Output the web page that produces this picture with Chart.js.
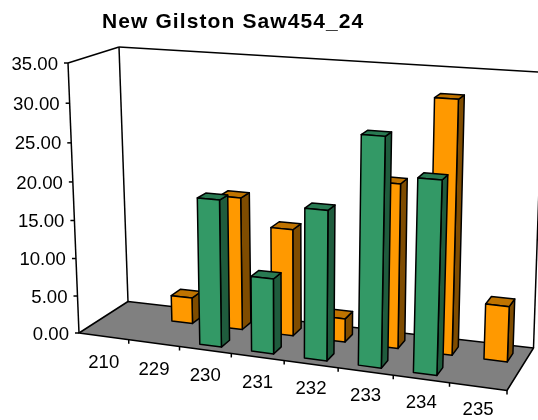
<!DOCTYPE html>
<html><head><meta charset="utf-8">
<style>html,body{margin:0;padding:0;background:#fff}canvas{display:block}</style>
<script src="https://cdn.jsdelivr.net/npm/chart.js@4/dist/chart.umd.js"></script>
</head><body><canvas id="c" width="538" height="420"></canvas>
<script>
const titleText = 'New Gilston Saw454_24';
const categories = ['210','229','230','231','232','233','234','235'];
const greenValues = [null,null,19,9.7,19,28.5,23.9,null];
const orangeValues = [null,3.5,17.6,14.1,3.1,21.2,32.1,7.1];

// perspective box: corners of the floor and of the top plane
function quad(p00,p10,p11,p01){
  return (u,v)=>[0,1].map(i=>(1-v)*((1-u)*p00[i]+u*p10[i])+v*((1-u)*p01[i]+u*p11[i]));
}
const floorQ = quad([79,333],[507,390.5],[533.5,348],[128,301.5]);
const topQ = quad([68,63],[519,92],[543,72.2],[119,47]);
function project(u0,v,w){
  const u=u0/(u0+1.086*(1-u0));
  const a=floorQ(u,v),b=topQ(u,v),t=w/(w+1.05*(1-w));
  return [a[0]+(b[0]-a[0])*t,a[1]+(b[1]-a[1])*t];
}
function poly(ctx,pts,fill){
  ctx.beginPath();pts.forEach((p,i)=>i?ctx.lineTo(p[0],p[1]):ctx.moveTo(p[0],p[1]));ctx.closePath();
  if(fill){ctx.fillStyle=fill;ctx.fill();}
  ctx.stroke();
}
function line(ctx,a,b){ctx.beginPath();ctx.moveTo(a[0],a[1]);ctx.lineTo(b[0],b[1]);ctx.stroke();}

class Bar3DElement extends Chart.BarElement{
  draw(ctx){
    if(!this.box3d) return;
    const xs=this.box3d.x,ys=this.box3d.y;
    const half=this.width/2;
    const u0=(this.x-half-xs.left)/xs.width,u1=(this.x+half-xs.left)/xs.width;
    const w0=(ys.bottom-this.base)/ys.height,w1=(ys.bottom-this.y)/ys.height;
    const v0=this.box3d.v0,v1=this.box3d.v1;
    ctx.save();
    ctx.strokeStyle='#000';ctx.lineWidth=1.5;ctx.lineJoin='round';
    poly(ctx,[project(u1,v0,w0),project(u1,v1,w0),project(u1,v1,w1),project(u1,v0,w1)],this.box3d.side);
    poly(ctx,[project(u0,v0,w1),project(u1,v0,w1),project(u1,v1,w1),project(u0,v1,w1)],this.box3d.top);
    poly(ctx,[project(u0,v0,w0),project(u1,v0,w0),project(u1,v0,w1),project(u0,v0,w1)],this.options.backgroundColor);
    ctx.restore();
  }
}
Bar3DElement.id='bar3d';
class Bar3DController extends Chart.BarController{
  updateElements(rects,start,count,mode){
    super.updateElements(rects,start,count,mode);
    const ds=this.getDataset();
    for(let i=start;i<start+count;i++){
      rects[i].box3d={x:this.chart.scales.x,y:this.chart.scales.y,v0:ds.depthStart,v1:ds.depthEnd,side:ds.sideColor,top:ds.topColor};
    }
  }
}
Bar3DController.id='bar3d';
Bar3DController.defaults=Object.assign({},Chart.BarController.defaults,{dataElementType:'bar3d'});
Bar3DController.overrides=Chart.BarController.overrides;
Chart.register(Bar3DElement,Bar3DController);

const box3d={
  id:'box3d',
  beforeDatasetsDraw(chart){
    const ctx=chart.ctx,ys=chart.scales.y,xs=chart.scales.x;
    ctx.save();
    ctx.strokeStyle='#000';ctx.lineWidth=1.5;ctx.lineJoin='round';
    poly(ctx,[project(0,0,0),project(1,0,0),project(1,1,0),project(0,1,0)],'#808080');
    line(ctx,project(0,0,0),project(0,0,1));
    line(ctx,project(0,1,0),project(0,1,1));
    line(ctx,project(0,0,1),project(0,1,1));
    line(ctx,project(0,1,1),project(1,1,1));
    line(ctx,project(1,1,0),project(1,1,1));
    ys.ticks.forEach(t=>{
      const w=(ys.bottom-ys.getPixelForValue(t.value))/ys.height,p=project(0,0,w);
      line(ctx,p,[p[0]-4,p[1]]);
    });
    for(let i=1;i<=categories.length;i++){
      const p=project(i/categories.length,0,0);
      line(ctx,p,[p[0],p[1]+4]);
    }
    ctx.restore();
  },
  afterDraw(chart){
    const ctx=chart.ctx,ys=chart.scales.y,xs=chart.scales.x;
    ctx.save();
    ctx.fillStyle='#000';
    ctx.font='18.6px "Liberation Sans", Arial, sans-serif';
    ctx.textBaseline='middle';
    ctx.textAlign='right';
    ys.ticks.forEach(t=>{
      const w=(ys.bottom-ys.getPixelForValue(t.value))/ys.height,p=project(0,0,w);
      ctx.fillText(t.label,p[0]-10,p[1]+1.5);
    });
    ctx.textAlign='center';
    categories.forEach((c,i)=>{
      const u=(xs.getPixelForValue(i)-xs.left)/xs.width,p=project(u,0,0);
      ctx.fillText(xs.getLabelForValue(i),p[0],p[1]+27-3.5*u);
    });
    ctx.font='bold 21px "Liberation Sans", Arial, sans-serif';
    ctx.letterSpacing='1.1px';
    ctx.textAlign='left';
    ctx.fillText(titleText,102,22);
    ctx.restore();
  }
};

new Chart(document.getElementById('c'),{
  type:'bar3d',
  data:{labels:categories,datasets:[
    {label:'Front',data:greenValues,backgroundColor:'#339966',sideColor:'#1F5C3D',topColor:'#297A52',depthStart:0.125,depthEnd:0.32},
    {label:'Back',data:orangeValues,backgroundColor:'#FF9900',sideColor:'#7F4C00',topColor:'#BF7300',depthStart:0.625,depthEnd:0.83}
  ]},
  options:{
    responsive:false,animation:false,
    grouped:false,categoryPercentage:1,barPercentage:0.42,
    layout:{padding:0},
    plugins:{legend:{display:false},title:{display:false},tooltip:{enabled:false}},
    scales:{
      x:{display:false},
      y:{display:false,min:0,max:35,ticks:{stepSize:5,callback:v=>v.toFixed(2)}}
    }
  },
  plugins:[box3d]
});
</script></body></html>
